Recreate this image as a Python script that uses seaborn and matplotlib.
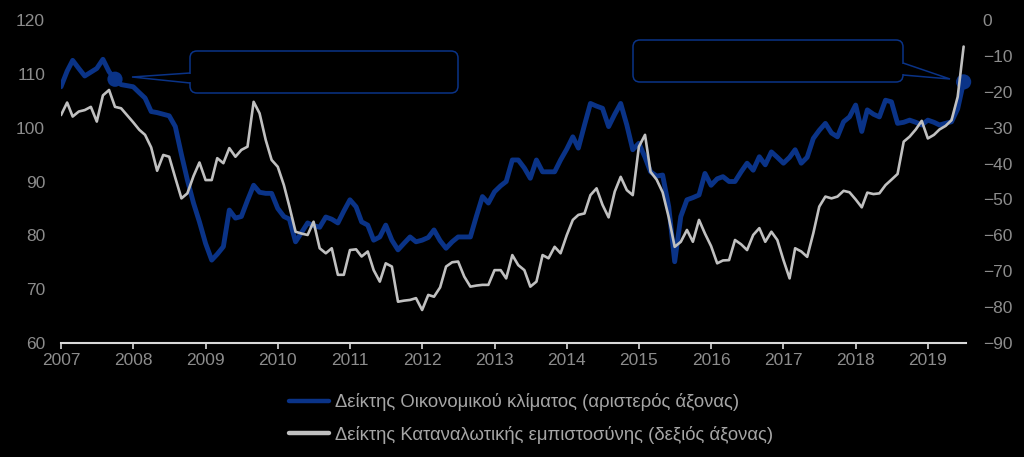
import numpy as np
import pandas as pd
import matplotlib
matplotlib.use("Agg")
from matplotlib import pyplot as plt
from matplotlib import patches, transforms
import seaborn as sns

# monthly data, Jan 2007 - Jul 2019
dates = pd.date_range("2007-01-01", "2019-07-01", freq="MS")

economic_climate = [
    107.6, 110.5, 112.5, 111.0, 109.6, 110.3, 111.0, 112.7, 110.4, 109.0,
    108.0, 107.8, 107.6, 106.5, 105.5, 103.0, 102.8, 102.5, 102.2, 100.2,
    95.0, 90.3, 86.0, 82.5, 78.5, 75.4, 76.5, 77.9, 84.7, 83.2,
    83.5, 86.5, 89.3, 88.0, 87.8, 87.8, 85.0, 83.5, 83.0, 78.8,
    80.5, 82.3, 81.8, 81.5, 83.4, 83.0, 82.3, 84.5, 86.6, 85.3,
    82.5, 81.9, 79.1, 79.7, 81.9, 79.1, 77.3, 78.5, 79.7, 78.8,
    79.1, 79.6, 81.0, 79.0, 77.6, 78.8, 79.7, 79.7, 79.7, 83.5,
    87.2, 86.0, 88.1, 89.2, 90.0, 94.0, 94.0, 92.5, 90.6, 94.0,
    91.8, 91.8, 91.8, 94.0, 96.0, 98.3, 96.2, 100.5, 104.5, 104.0,
    103.6, 100.2, 102.5, 104.5, 100.5, 95.9, 97.1, 94.5, 91.8, 91.0,
    91.2, 85.3, 75.1, 83.5, 86.6, 87.0, 87.5, 91.5, 89.3, 90.5,
    90.9, 90.0, 90.0, 91.8, 93.4, 92.1, 94.6, 93.1, 95.5, 94.5,
    93.4, 94.5, 95.9, 93.4, 94.5, 98.0, 99.5, 100.8, 99.0, 98.3,
    101.1, 102.0, 104.2, 99.3, 103.3, 102.5, 102.0, 105.1, 104.8, 100.8,
    101.0, 101.4, 101.0, 100.5, 101.4, 101.0, 100.5, 100.8, 101.1, 103.5,
    108.5,
]

consumer_confidence = [
    -26.5, -23.0, -26.9, -25.5, -25.1, -24.2, -28.3, -21.0, -19.5, -24.2,
    -24.6, -26.5, -28.5, -30.6, -32.0, -35.5, -42.0, -37.6, -38.1, -44.0,
    -49.7, -48.3, -43.5, -39.7, -44.6, -44.6, -38.5, -39.9, -35.7, -38.1,
    -36.2, -35.3, -22.8, -26.0, -33.4, -39.0, -40.9, -46.0, -52.0, -59.0,
    -59.5, -59.9, -56.2, -63.6, -65.0, -63.6, -71.0, -71.0, -64.1, -63.9,
    -65.9, -64.5, -69.7, -72.9, -67.8, -68.7, -78.5, -78.2, -78.0, -77.5,
    -80.8, -76.6, -77.1, -74.5, -68.7, -67.5, -67.3, -71.5, -74.3, -74.0,
    -73.8, -73.8, -69.7, -69.7, -72.0, -65.5, -68.3, -69.7, -74.3, -72.9,
    -65.5, -66.4, -63.2, -65.0, -60.0, -55.7, -54.3, -53.9, -48.8, -46.9,
    -51.5, -55.0, -47.8, -43.7, -47.4, -48.8, -35.3, -32.0, -42.3, -44.5,
    -48.0, -55.0, -63.2, -61.8, -58.5, -61.8, -55.7, -59.5, -63.0, -67.8,
    -67.0, -66.9, -61.3, -62.5, -64.1, -59.9, -58.0, -61.8, -59.0, -61.3,
    -66.9, -72.0, -63.6, -64.5, -66.0, -59.4, -52.0, -49.2, -49.7, -49.2,
    -47.6, -48.0, -50.0, -52.2, -48.1, -48.5, -48.3, -46.0, -44.5, -42.9,
    -33.9, -32.5, -30.5, -28.1, -33.0, -32.0, -30.5, -29.5, -27.9, -21.4,
    -7.4,
]

year_ticks = pd.date_range("2007-01-01", "2019-01-01", freq="YS")
year_labels = [str(d.year) for d in year_ticks]
left_ticks = [60, 70, 80, 90, 100, 110, 120]
right_ticks = [-90, -80, -70, -60, -50, -40, -30, -20, -10, 0]
highlight_idx = [9, 150]

label_econ = "Δείκτης Οικονομικού κλίματος (αριστερός άξονας)"
label_cons = "Δείκτης Καταναλωτικής εμπιστοσύνης (δεξιός άξονας)"

BLUE = "#0a3387"
GREY = "#c0c0c0"
TICK_COL = "#8c8c8c"
AXIS_COL = "#d9d9d9"

sns.set_theme(style="dark")
plt.rcParams["font.family"] = ["Liberation Sans", "DejaVu Sans"]

W, H = 1024, 457
fig = plt.figure(figsize=(W / 100, H / 100), dpi=100, facecolor="black")
ax = fig.add_axes([61 / W, 114 / H, 905 / W, 323 / H])
ax.set_facecolor("black")
ax2 = ax.twinx()
ax2.set_facecolor("none")

sns.lineplot(x=dates, y=economic_climate, ax=ax, color=BLUE, linewidth=3.5,
             label=label_econ)
sns.scatterplot(x=dates[highlight_idx],
                y=[economic_climate[i] for i in highlight_idx],
                ax=ax, color=BLUE, s=120, edgecolor="none", zorder=4,
                clip_on=False)
sns.lineplot(x=dates, y=consumer_confidence, ax=ax2, color=GREY, linewidth=1.9,
             label=label_cons)

h1, l1 = ax.get_legend_handles_labels()
h2, l2 = ax2.get_legend_handles_labels()
ax.get_legend().remove()
ax2.get_legend().remove()

ax.set_xlim(dates[0], pd.Timestamp("2019-07-13"))
ax.set_ylim(60, 120)
ax2.set_ylim(-90, 0)
ax.set_xticks(year_ticks)
ax.set_xticklabels(year_labels)
ax.set_yticks(left_ticks)
ax2.set_yticks(right_ticks)
ax.set_xlabel("")
ax.set_ylabel("")
ax2.set_ylabel("")
ax.grid(False)
ax2.grid(False)

for a in (ax, ax2):
    for s in a.spines.values():
        s.set_visible(False)
ax.spines["bottom"].set_visible(True)
ax.spines["bottom"].set_color(AXIS_COL)
ax.spines["bottom"].set_linewidth(1.5)

ax.tick_params(axis="x", colors=AXIS_COL, labelcolor=TICK_COL, direction="out",
               length=4, width=1.2, pad=3, labelsize=12.5, bottom=True)
ax.tick_params(axis="y", length=0, pad=11.5, labelcolor=TICK_COL, labelsize=12.5)
ax2.tick_params(axis="y", length=0, pad=12, labelcolor=TICK_COL, labelsize=12.5)

leg = fig.legend(h1 + h2, l1 + l2, loc="center",
                 bbox_to_anchor=(531 / W, (H - 418.5) / H),
                 frameon=False, ncol=1, fontsize=13.3, labelcolor="#a6a6a6",
                 handlelength=2.2, handletextpad=0.3, labelspacing=0.8)
for line in leg.get_lines():
    line.set_linewidth(3.2)

# callout boxes (text inside is black on black in the original)
px = transforms.IdentityTransform()


def callout(x0, x1, y0, y1, base, tip):
    box = patches.FancyBboxPatch((x0, H - y1), x1 - x0, y1 - y0,
                                 boxstyle="round,pad=0,rounding_size=7",
                                 facecolor="black", edgecolor=BLUE, linewidth=1.1,
                                 transform=px, zorder=10)
    fig.add_artist(box)
    bx = base[0]
    pts = [(bx, H - base[1]), (tip[0], H - tip[1]), (bx, H - base[2])]
    fig.add_artist(patches.Polygon(pts, closed=False, fill=False,
                                   edgecolor=BLUE, linewidth=1.1,
                                   transform=px, zorder=11))
    fig.add_artist(patches.Polygon([(bx - 1, H - base[1] - 1), (bx + 1, H - base[1] - 1),
                                    (bx + 1, H - base[2] + 1), (bx - 1, H - base[2] + 1)],
                                   closed=True, facecolor="black", edgecolor="none",
                                   transform=px, zorder=12))


callout(190, 458, 51, 93, (190, 73, 83), (132, 77))
callout(633, 903, 40, 82, (903, 63, 75), (950, 79))

fig.savefig("out.png", dpi=100, facecolor="black")
